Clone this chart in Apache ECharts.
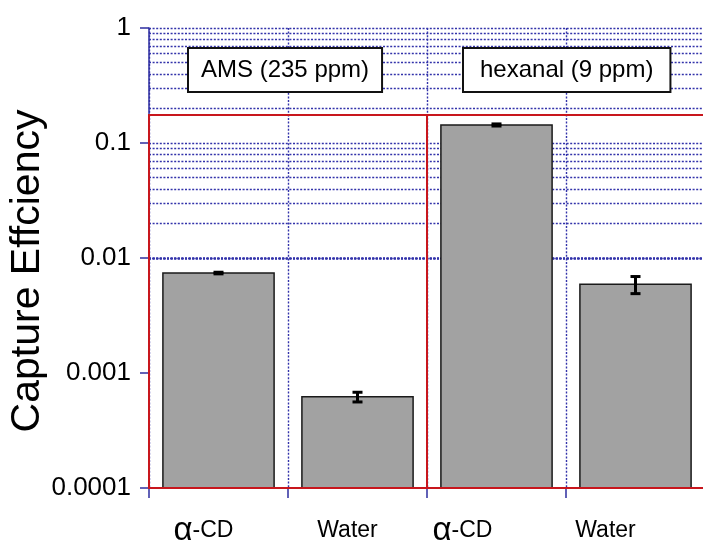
<!DOCTYPE html>
<html>
<head>
<meta charset="utf-8">
<script src="https://cdn.jsdelivr.net/npm/echarts@6/dist/echarts.min.js"></script>
<style>
  html, body { margin: 0; padding: 0; background: #fff; }
  #chart { width: 703px; height: 540px; }
</style>
</head>
<body>
<div id="chart"></div>
<script>
// DATA
const categories = ["α-CD", "Water", "α-CD", "Water"];
const efficiency = [0.0074, 0.00062, 0.1435, 0.0059];
const errors = [0.00012, 0.00006, 0.003, 0.0010];
const groupNames = ["AMS (235 ppm)", "hexanal (9 ppm)"];
const groupRanges = [[0, 2], [2, 4]];
const groupTop = 0.175;
const yTicks = [0.0001, 0.001, 0.01, 0.1, 1];
// where each x label sits relative to its bar (label is shifted left)
const labelShift = [15, 10, 34, 30];

// minor grid values 2..9 x 10^k plus inner decades
var gridValues = [];
for (let k = -4; k < 0; k++) {
  for (let m = 1; m <= 9; m++) {
    let v = m * Math.pow(10, k);
    if (m == 1 && k == -4) continue;
    gridValues.push(+v.toPrecision(3));
  }
}
gridValues.push(1);

const blue = "#2e2ea0";
const dotted = { color: "#3333aa", width: 1.4, type: [2, 1.6] };

var rich = {
  al: { fontSize: 33, fontFamily: "Liberation Sans", color: "#000", lineHeight: 30 },
  t: { fontSize: 23, fontFamily: "Liberation Sans", color: "#000", lineHeight: 30 }
};
labelShift.forEach((s, i) => {
  rich["p" + i] = { width: 2 * s, fontSize: 23, lineHeight: 30 };
});

var chart = echarts.init(document.getElementById("chart"));

chart.setOption({
  animation: false,
  grid: {
    left: 149, top: 28, width: 556, height: 460,
    containLabel: false, outerBoundsMode: "none"
  },
  xAxis: [{
    type: "category",
    data: categories,
    axisLine: { lineStyle: { color: blue, width: 1.5 } },
    axisTick: { show: true, length: 10, interval: 0, lineStyle: { color: blue, width: 1.5 } },
    splitLine: { show: true, interval: 0, lineStyle: dotted },
    axisLabel: {
      interval: 0,
      margin: 28,
      formatter: function(v, i) {
        if (v.indexOf("α") == 0) return "{al|α}{t|" + v.slice(1) + "}{p" + i + "| }";
        return "{t|" + v + "}{p" + i + "| }";
      },
      rich: rich
    }
  }, {
    type: "value",
    min: 0, max: 4,
    show: false
  }],
  yAxis: {
    type: "log",
    logBase: 10,
    min: 0.0001,
    max: 1,
    name: "Capture Effciency",
    nameLocation: "middle",
    nameMoveOverlap: false,
    nameGap: 101,
    nameTextStyle: {
      fontSize: 41, fontFamily: "Liberation Sans", color: "#000",
      padding: [0, 26, 0, 0]
    },
    axisLine: { show: true, lineStyle: { color: blue, width: 1.5 } },
    axisTick: { show: true, length: 9, lineStyle: { color: blue, width: 1.5 } },
    splitLine: { show: false },
    axisLabel: {
      margin: 18,
      fontSize: 26,
      fontFamily: "Liberation Sans",
      color: "#000",
      formatter: function(v) {
        let best = yTicks[0];
        for (let t of yTicks) {
          if (Math.abs(Math.log10(t) - Math.log10(v)) < Math.abs(Math.log10(best) - Math.log10(v))) best = t;
        }
        return String(best);
      }
    }
  },
  graphic: [
    {
      type: "text", left: 187, top: 47, z: 50,
      style: {
        text: groupNames[0], font: "24px 'Liberation Sans'", fill: "#000",
        backgroundColor: "#fff", borderColor: "#111", borderWidth: 2,
        padding: [8, 12, 8, 12], lineHeight: 26
      }
    },
    {
      type: "text", left: 462, top: 47, z: 50,
      style: {
        text: groupNames[1], font: "24px 'Liberation Sans'", fill: "#000",
        backgroundColor: "#fff", borderColor: "#111", borderWidth: 2,
        padding: [8, 16, 8, 16], lineHeight: 26
      }
    }
  ],
  series: [
    {
      // dotted log grid
      type: "line",
      data: [],
      silent: true,
      markLine: {
        silent: true,
        symbol: "none",
        label: { show: false },
        lineStyle: dotted,
        data: gridValues.map(v => ({ yAxis: v }))
      }
    },
    {
      // bars rise from the axis floor (0.0001)
      type: "custom",
      z: 10,
      data: efficiency.map((v, i) => [i, v]),
      renderItem: function(params, api) {
        let top = api.coord([api.value(0), api.value(1)]);
        let base = api.coord([api.value(0), yTicks[0]]);
        let w = api.size([1, 0])[0] * 0.8;
        return {
          type: "rect",
          shape: { x: top[0] - w / 2, y: top[1], width: w, height: base[1] - top[1] },
          style: { fill: "#a2a2a2", stroke: "#1a1a1a", lineWidth: 1.5 }
        };
      }
    },
    {
      type: "custom",
      z: 12,
      data: efficiency.map((v, i) => [i, v, errors[i]]),
      renderItem: function(params, api) {
        let i = api.value(0), v = api.value(1), e = api.value(2);
        let top = api.coord([i, v + e]);
        let bot = api.coord([i, v - e]);
        let half = 5;
        let st = { stroke: "#000", lineWidth: 3 };
        return {
          type: "group",
          children: [
            { type: "line", shape: { x1: top[0], y1: top[1], x2: bot[0], y2: bot[1] }, style: st },
            { type: "line", shape: { x1: top[0] - half, y1: top[1], x2: top[0] + half, y2: top[1] }, style: st },
            { type: "line", shape: { x1: bot[0] - half, y1: bot[1], x2: bot[0] + half, y2: bot[1] }, style: st }
          ]
        };
      }
    },
    {
      // red group frames
      type: "custom",
      xAxisIndex: 1,
      z: 20,
      silent: true,
      data: groupRanges.map(r => [r[0], r[1]]),
      renderItem: function(params, api) {
        let a = api.coord([api.value(0), groupTop]);
        let b = api.coord([api.value(1), yTicks[0]]);
        return {
          type: "rect",
          shape: { x: a[0], y: a[1], width: b[0] - a[0], height: b[1] - a[1] },
          style: { fill: null, stroke: "#c8161d", lineWidth: 2 }
        };
      }
    }
  ]
});
</script>
</body>
</html>
